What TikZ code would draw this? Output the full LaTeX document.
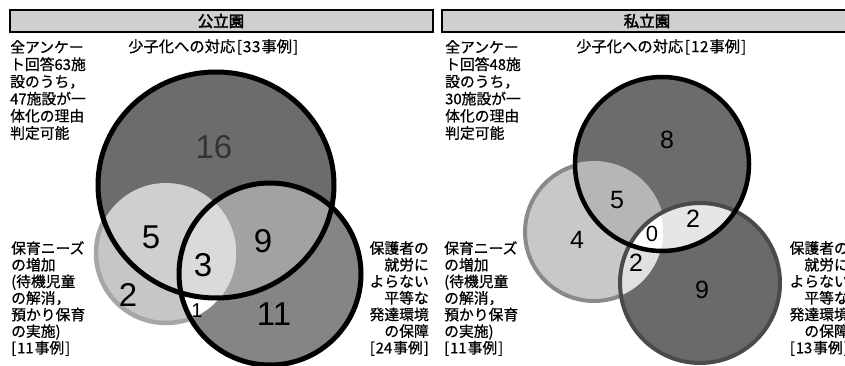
\documentclass[tikz,border=0pt]{standalone}
\usepackage{fontspec}
\newfontfamily\jp[FakeBold=0.7]{Noto Sans CJK JP}
\newfontfamily\jpb[FakeBold=2.5]{Noto Sans CJK JP}
\newfontfamily\num{Liberation Sans}
\newcommand\obr{\kern1.5pt[\kern1pt}
\newcommand\cbr{\kern1pt]}
\definecolor{hdrfill}{HTML}{CFCFCF}
\definecolor{gTop}{HTML}{6C6C6C}
\definecolor{gRight}{HTML}{858585}
\definecolor{gLeft}{HTML}{C6C6C6}
\definecolor{gLeftB}{HTML}{A6A6A6}
\definecolor{gTL}{HTML}{CFCFCF}
\definecolor{gTR}{HTML}{A2A2A2}
\definecolor{gAll}{HTML}{DADADA}
\definecolor{pTop}{HTML}{6C6C6C}
\definecolor{pLeft}{HTML}{C8C8C8}
\definecolor{pLeftB}{HTML}{8A8A8A}
\definecolor{pRight}{HTML}{6A6A6A}
\definecolor{pRightB}{HTML}{4A4A4A}
\definecolor{pTL}{HTML}{B6B6B6}
\definecolor{pTR}{HTML}{E6E6E6}
\definecolor{pLR}{HTML}{E0E0E0}
\begin{document}
\begin{tikzpicture}[x=1pt,y=-1pt,
  hdr/.style={fill=hdrfill,draw=black,line width=1.5pt},
  htxt/.style={font=\jpb\fontsize{15.5}{17}\selectfont,inner sep=0pt},
  lbl/.style={font=\jp\fontsize{14.8}{17.2}\selectfont,inner sep=0pt,align=left},
  lblb/.style={font=\jp\fontsize{14.8}{16.6}\selectfont,inner sep=0pt,align=left},
  lblr/.style={font=\jp\fontsize{14.8}{16.6}\selectfont,inner sep=0pt,align=right},
  ttl/.style={font=\jp\fontsize{15.3}{17}\selectfont,inner sep=0pt},
  bignum/.style={font=\num\fontsize{33}{33}\selectfont,inner sep=0pt},
  smallnum/.style={font=\num\fontsize{25}{25}\selectfont,inner sep=0pt}]
\useasboundingbox (0,0) rectangle (845,366);
\fill[white] (0,0) rectangle (845,366);
\clip (0,0) rectangle (845,366);

% headers
\draw[hdr] (10,10) rectangle (433,32);
\node[htxt] (h1) at (221,21) {公立園};
\draw[hdr] (442,10) rectangle (862,32);
\node[htxt] (h2) at (647,21) {私立園};

% ---------------- left panel Venn ----------------
\fill[gLeft] (166,253) circle[radius=70pt];
\draw[gLeftB,line width=4.5pt] (166,253) circle[radius=70pt];
\fill[gRight] (270,274) circle[radius=91pt];
\fill[gTop] (216,185) ellipse[x radius=118pt,y radius=113pt];
\begin{scope}
  \clip (216,185) ellipse[x radius=118pt,y radius=113pt];
  \fill[gTR] (270,274) circle[radius=91pt];
\end{scope}
\begin{scope}
  \clip (166,253) circle[radius=70pt];
  \fill[white] (270,274) circle[radius=91pt];
  \clip (216,185) ellipse[x radius=118pt,y radius=113pt];
  \fill[gTL] (166,253) circle[radius=72pt];
  \fill[gAll] (270,274) circle[radius=91pt];
\end{scope}
\draw[black,line width=5pt] (216,185) ellipse[x radius=118pt,y radius=113pt];
\draw[black,line width=5pt] (270,274) circle[radius=91pt];

\node[bignum,text=black!80] (n16) at (214,147) {16};
\node[bignum] (n5) at (151,237) {5};
\node[bignum] (n3) at (203,265) {3};
\node[bignum] (n9) at (263,241) {9};
\node[bignum] (n2) at (128,295) {2};
\node[font=\num\fontsize{20}{20}\selectfont,inner sep=0pt] (n1) at (197,311) {1};
\node[bignum] (n11) at (274,314) {11};

% ---------------- right panel Venn ----------------
\fill[pLeft] (594,232) circle[radius=69pt];
\draw[pLeftB,line width=4pt] (594,232) circle[radius=69pt];
\fill[pRight] (700,283) circle[radius=80pt];
\fill[pTop] (662,164) circle[radius=87pt];
\begin{scope}
  \clip (662,164) circle[radius=87pt];
  \fill[pTL] (594,232) circle[radius=71pt];
  \fill[pTR] (700,283) circle[radius=80pt];
\end{scope}
\begin{scope}
  \clip (594,232) circle[radius=69pt];
  \fill[pLR] (700,283) circle[radius=80pt];
  \clip (662,164) circle[radius=87pt];
  \fill[white] (700,283) circle[radius=80pt];
\end{scope}
\draw[pRightB,line width=4pt] (700,283) circle[radius=80pt];
\draw[black,line width=4.5pt] (662,164) circle[radius=87pt];

\node[smallnum] (m8) at (667,140) {8};
\node[smallnum] (m5) at (617,200) {5};
\node[smallnum] (m4) at (577,240) {4};
\node[font=\num\fontsize{22}{22}\selectfont,inner sep=0pt] (m0) at (652,234) {0};
\node[smallnum] (m2a) at (693,219) {2};
\node[smallnum] (m2b) at (636,263) {2};
\node[smallnum] (m9) at (702,290) {9};

% ---------------- texts ----------------
\node[lbl,anchor=north west] (t1) at (10,40) {全アンケー\\ト回答63施\\設のうち，\\47施設が一\\体化の理由\\判定可能};
\node[ttl,anchor=west] (s1) at (128,47) {少子化への対応\obr 3\kern0.5pt 3\kern1pt 事例\cbr};
\node[lblb,anchor=north west] (a1) at (11,241) {保育ニーズ\\の増加\\(待機児童\\の解消，\\預かり保育\\の実施)\\{[}\kern1pt 11\kern1pt 事例\cbr};
\node[lblr,anchor=north east] (b1) at (429,241) {保護者の\\就労に\\よらない\\平等な\\発達環境\\の保障\\{[}\kern1pt 24\kern1pt 事例\cbr};

\node[lbl,anchor=north west] (t2) at (445,40) {全アンケー\\ト回答48施\\設のうち，\\30施設が一\\体化の理由\\判定可能};
\node[ttl,anchor=west] (s2) at (576,47) {少子化への対応\obr 1\kern0.5pt 2\kern1pt 事例\cbr};
\node[lblb,anchor=north west] (a2) at (444,241) {保育ニーズ\\の増加\\(待機児童\\の解消，\\預かり保育\\の実施)\\{[}\kern1pt 11\kern1pt 事例\cbr};
\node[lblr,anchor=north east] (b2) at (849,241) {保護者の\\就労に\\よらない\\平等な\\発達環境\\の保障\\{[}\kern1pt 13\kern1pt 事例\cbr};
\end{tikzpicture}
\end{document}
